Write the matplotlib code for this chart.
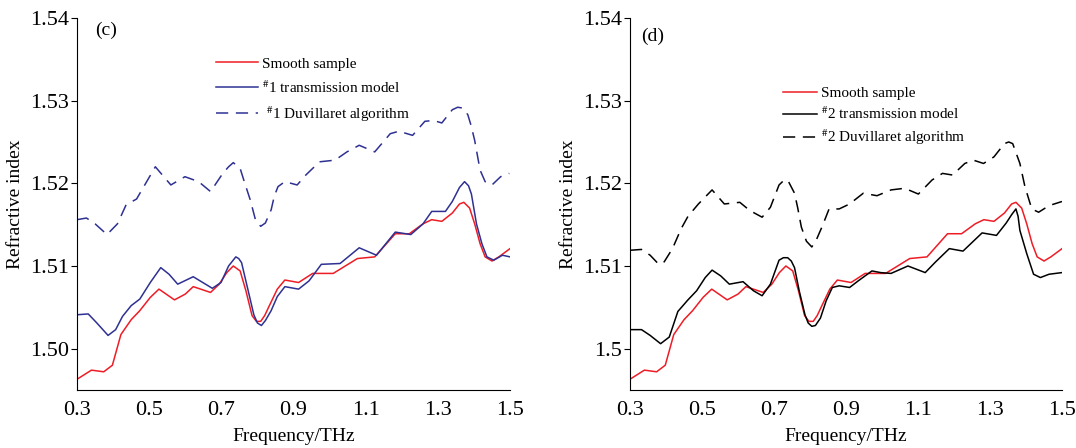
import matplotlib.pyplot as plt

plt.rcParams['font.family'] = 'Liberation Serif'
plt.rcParams['mathtext.fontset'] = 'stix'

# smooth sample (same in both panels)
smooth_f = [0.300, 0.340, 0.374, 0.398, 0.4215, 0.450, 0.474, 0.503, 0.527, 0.570, 0.600, 0.622, 0.670, 0.694,
            0.715, 0.733, 0.752, 0.768, 0.785, 0.797, 0.809, 0.820, 0.833, 0.855, 0.876, 0.914, 0.953, 1.010,
            1.077, 1.125, 1.182, 1.221, 1.259, 1.283, 1.311, 1.340, 1.360, 1.372, 1.388, 1.402, 1.417, 1.431,
            1.450, 1.469, 1.500]
smooth_n = [1.4963, 1.4974, 1.4972, 1.4980, 1.5017, 1.5035, 1.5046, 1.5062, 1.5072, 1.5059, 1.5066, 1.5075, 1.5068, 1.5078,
            1.5092, 1.5100, 1.5094, 1.5070, 1.5040, 1.5033, 1.5033, 1.5040, 1.5052, 1.5072, 1.5083, 1.5080, 1.5091, 1.5091,
            1.5109, 1.5111, 1.5139, 1.5139, 1.5151, 1.5156, 1.5154, 1.5164, 1.5175, 1.5177, 1.5170, 1.5151, 1.5127, 1.5111,
            1.5106, 1.5111, 1.5121]

# #1 transmission model
model1_f = [0.300, 0.331, 0.355, 0.386, 0.407, 0.426, 0.450, 0.474, 0.503, 0.532, 0.555, 0.579, 0.622, 0.656,
            0.675, 0.699, 0.720, 0.740, 0.748, 0.756, 0.770, 0.790, 0.800, 0.811, 0.822, 0.838, 0.855, 0.876,
            0.914, 0.943, 0.977, 1.029, 1.082, 1.130, 1.182, 1.225, 1.259, 1.283, 1.321, 1.340, 1.360, 1.374,
            1.385, 1.393, 1.407, 1.422, 1.436, 1.455, 1.479, 1.500]
model1_n = [1.5041, 1.5042, 1.5031, 1.5016, 1.5023, 1.5039, 1.5052, 1.5060, 1.5080, 1.5098, 1.5090, 1.5078, 1.5087, 1.5078,
            1.5073, 1.5080, 1.5100, 1.5111, 1.5109, 1.5104, 1.5078, 1.5041, 1.5031, 1.5028, 1.5034, 1.5046, 1.5063, 1.5075,
            1.5072, 1.5082, 1.5102, 1.5103, 1.5122, 1.5113, 1.5141, 1.5138, 1.5151, 1.5166, 1.5166, 1.5178, 1.5195, 1.5202,
            1.5197, 1.5187, 1.5151, 1.5127, 1.5111, 1.5107, 1.5113, 1.5111]

# #1 Duvillaret algorithm
duv1_f = [0.300, 0.326, 0.350, 0.383, 0.412, 0.436, 0.465, 0.493, 0.517, 0.560, 0.599, 0.637, 0.670, 0.704,
          0.720, 0.733, 0.752, 0.765, 0.780, 0.795, 0.809, 0.822, 0.838, 0.847, 0.857, 0.876, 0.910, 0.934,
          0.972, 1.015, 1.048, 1.082, 1.125, 1.168, 1.192, 1.230, 1.264, 1.288, 1.311, 1.340, 1.355, 1.369,
          1.383, 1.392, 1.402, 1.417, 1.431, 1.450, 1.474, 1.498]
duv1_n = [1.5156, 1.5158, 1.5151, 1.5138, 1.5151, 1.5174, 1.5181, 1.5202, 1.5220, 1.5198, 1.5208, 1.5202, 1.5190, 1.5212,
          1.5220, 1.5225, 1.5218, 1.5200, 1.5180, 1.5155, 1.5148, 1.5152, 1.5168, 1.5185, 1.5196, 1.5202, 1.5198, 1.5210,
          1.5226, 1.5228, 1.5238, 1.5246, 1.5238, 1.5260, 1.5263, 1.5258, 1.5275, 1.5276, 1.5273, 1.5289, 1.5292, 1.5291,
          1.5283, 1.5270, 1.5252, 1.5216, 1.5202, 1.5198, 1.5208, 1.5212]

# #2 transmission model
model2_f = [0.300, 0.332, 0.356, 0.385, 0.409, 0.433, 0.461, 0.485, 0.509, 0.528, 0.552, 0.576, 0.614, 0.643,
            0.667, 0.690, 0.714, 0.726, 0.738, 0.748, 0.757, 0.770, 0.786, 0.795, 0.805, 0.815, 0.829, 0.845,
            0.862, 0.881, 0.910, 0.934, 0.972, 0.996, 1.025, 1.072, 1.120, 1.149, 1.187, 1.225, 1.278, 1.318,
            1.345, 1.360, 1.372, 1.378, 1.383, 1.402, 1.421, 1.440, 1.464, 1.500]
model2_n = [1.5023, 1.5023, 1.5016, 1.5006, 1.5014, 1.5045, 1.5059, 1.5070, 1.5086, 1.5095, 1.5088, 1.5078, 1.5081, 1.5070,
            1.5064, 1.5078, 1.5107, 1.5110, 1.5110, 1.5106, 1.5098, 1.5070, 1.5041, 1.5031, 1.5027, 1.5028, 1.5037, 1.5058,
            1.5074, 1.5076, 1.5074, 1.5082, 1.5094, 1.5092, 1.5091, 1.5100, 1.5092, 1.5105, 1.5121, 1.5118, 1.5140, 1.5137,
            1.5152, 1.5162, 1.5169, 1.5160, 1.5143, 1.5115, 1.5090, 1.5086, 1.5090, 1.5092]

# #2 Duvillaret algorithm
duv2_f = [0.300, 0.332, 0.356, 0.380, 0.395, 0.418, 0.442, 0.461, 0.490, 0.528, 0.562, 0.605, 0.633, 0.667,
          0.690, 0.714, 0.726, 0.738, 0.757, 0.766, 0.776, 0.790, 0.805, 0.818, 0.834, 0.853, 0.881, 0.910,
          0.948, 0.986, 1.025, 1.063, 1.101, 1.139, 1.168, 1.196, 1.230, 1.254, 1.282, 1.311, 1.340, 1.352,
          1.363, 1.383, 1.397, 1.416, 1.435, 1.464, 1.500]
duv2_n = [1.5119, 1.5120, 1.5113, 1.5102, 1.5105, 1.5121, 1.5145, 1.5160, 1.5175, 1.5192, 1.5175, 1.5177, 1.5167, 1.5159,
          1.5171, 1.5198, 1.5203, 1.5204, 1.5188, 1.5170, 1.5147, 1.5130, 1.5123, 1.5132, 1.5148, 1.5169, 1.5169, 1.5175,
          1.5188, 1.5185, 1.5192, 1.5194, 1.5187, 1.5204, 1.5212, 1.5210, 1.5224, 1.5228, 1.5224, 1.5232, 1.5248, 1.5250,
          1.5248, 1.5224, 1.5196, 1.5169, 1.5165, 1.5173, 1.5178]

xticks = [0.3, 0.5, 0.7, 0.9, 1.1, 1.3, 1.5]
yticks = [1.50, 1.51, 1.52, 1.53, 1.54]
ylabels_c = ['1.50', '1.51', '1.52', '1.53', '1.54']
ylabels_d = ['1.5', '1.51', '1.52', '1.53', '1.54']

red = '#ee1c25'
navy = '#2e3192'

fig = plt.figure(figsize=(10.76, 4.48), dpi=100)
ax1 = fig.add_axes([0.0716, 0.1295, 0.4024, 0.8304])
ax2 = fig.add_axes([0.5855, 0.1295, 0.4015, 0.8304])


def style(ax, ylabels, tag, tagx, tagy):
    ax.set_xlim(0.3, 1.5)
    ax.set_ylim(1.495, 1.54)
    ax.set_xticks(xticks)
    ax.set_xticklabels([str(t) for t in xticks])
    ax.set_yticks(yticks)
    ax.set_yticklabels(ylabels)
    ax.spines['top'].set_visible(False)
    ax.spines['right'].set_visible(False)
    ax.tick_params(axis='x', length=0, labelsize=16, pad=8)
    ax.tick_params(axis='y', direction='out', length=4, labelsize=16, pad=2)
    ax.set_xlabel('Frequency/THz', fontsize=14, labelpad=6)
    ax.set_ylabel('Refractive index', fontsize=14, labelpad=4)
    ax.text(tagx, tagy, tag, transform=ax.transAxes, fontsize=14, va='top', ha='left')


ax1.plot(smooth_f, smooth_n, color=red, lw=1.1, label='Smooth sample')
ax1.plot(model1_f, model1_n, color=navy, lw=1.1, label='$^{\\#}$1 transmission model')
ax1.plot(duv1_f, duv1_n, color=navy, lw=1.1, dashes=(8, 5), label=' $^{\\#}$1 Duvillaret algorithm')
style(ax1, ylabels_c, '(c)', 0.042, 0.99)
ax1.legend(loc='upper left', bbox_to_anchor=(0.322, 0.895), frameon=False, fontsize=11,
           handlelength=2.7, handletextpad=0.3, labelspacing=0.55, borderpad=0, borderaxespad=0)

ax2.plot(smooth_f, smooth_n, color=red, lw=1.1, label='Smooth sample')
ax2.plot(model2_f, model2_n, color='black', lw=1.1, label='$^{\\#}$2 transmission model')
ax2.plot(duv2_f, duv2_n, color='black', lw=1.1, dashes=(8, 5), label='$^{\\#}$2 Duvillaret algorithm')
style(ax2, ylabels_d, '(d)', 0.026, 0.975)
ax2.legend(loc='upper left', bbox_to_anchor=(0.354, 0.815), frameon=False, fontsize=11,
           handlelength=2.2, handletextpad=0.3, labelspacing=0.35, borderpad=0, borderaxespad=0)

fig.savefig('out.png', dpi=100)
